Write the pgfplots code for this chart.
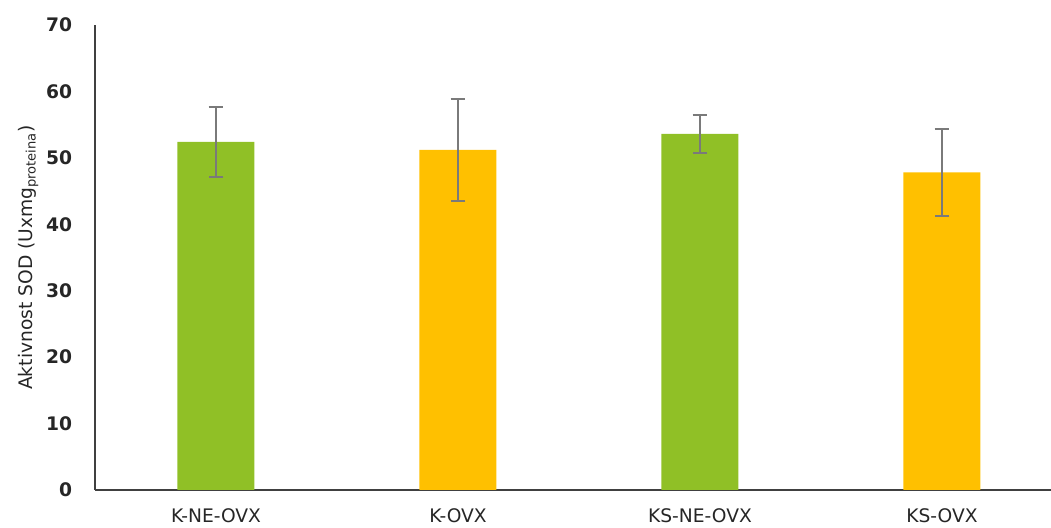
\documentclass[border=0pt]{standalone}
\usepackage{pgfplots}
\pgfplotsset{compat=1.18}
\usepackage{fontspec}
\setmainfont{DejaVu Sans}
\definecolor{barGreen}{HTML}{90C026}
\definecolor{barYellow}{HTML}{FFC000}
\definecolor{axisGray}{HTML}{404040}
\definecolor{errGray}{HTML}{7A7A7A}

\begin{document}
\fontsize{14pt}{16pt}\selectfont
\begin{tikzpicture}
\begin{axis}[
    scale only axis,
    width=726pt, height=348.75pt,
    xmin=-0.5, xmax=3.5,
    ymin=0, ymax=70,
    axis x line=bottom, axis y line=left,
    axis line style={-, color=axisGray, line width=1pt},
    xtick={0,1,2,3},
    xticklabels={K-NE-OVX, K-OVX, KS-NE-OVX, KS-OVX},
    ytick={0,10,...,70},
    major tick length=0pt,
    /pgf/number format/assume math mode=true,
    yticklabel style={font=\bfseries, color=black!85, inner sep=0pt, anchor=east, xshift=-17pt},
    xticklabel style={color=black!85, inner sep=0pt, anchor=north, yshift=-13.5pt},
    ylabel={Aktivnost SOD (Uxmg\textsubscript{proteina})},
    ylabel style={at={(axis description cs:-0.069,0.5)}, anchor=center, rotate=0, color=black!85},
    ybar, bar width=57.75pt, bar shift=0pt,
    error bars/y dir=both, error bars/y explicit,
    error bars/error bar style={color=errGray, line width=1.5pt},
    error bars/error mark options={rotate=90, mark size=5.5pt, line width=1.5pt, color=errGray},
]
\addplot[fill=barGreen, draw=none] coordinates {
    (0,52.4) +- (0,5.3)
    (2,53.6) +- (0,2.9)
};
\addplot[fill=barYellow, draw=none] coordinates {
    (1,51.2) +- (0,7.7)
    (3,47.8) +- (0,6.6)
};
\end{axis}
\pgfresetboundingbox
\path[use as bounding box] (-71.25pt,-28.5pt) rectangle (717pt,367.5pt);
\end{tikzpicture}
\end{document}
